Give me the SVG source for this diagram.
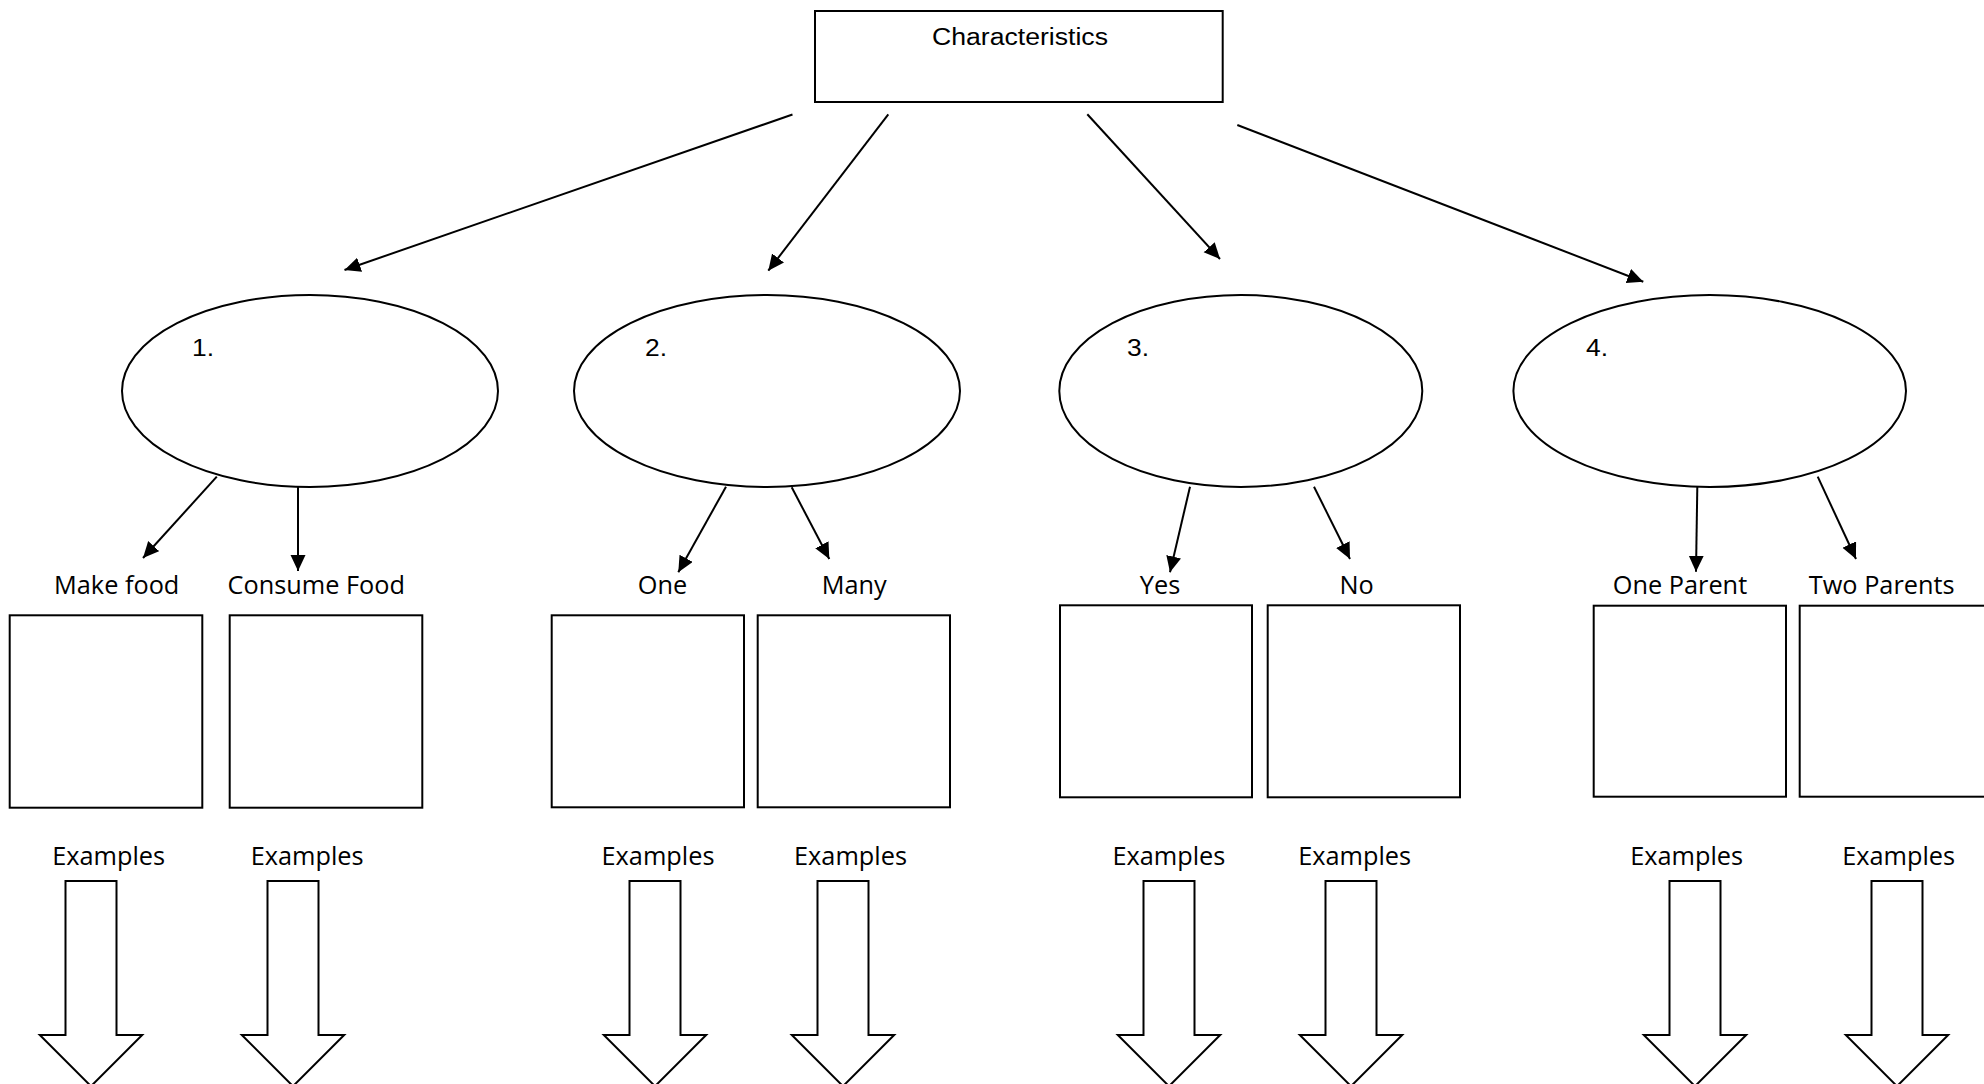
<svg xmlns="http://www.w3.org/2000/svg" width="1984" height="1084" viewBox="0 0 1984 1084">
<style>
.shape{fill:#fff;stroke:#000;stroke-width:2}
.conn{stroke:#000;stroke-width:2;fill:none;marker-end:url(#ah)}
.blk{fill:#fff;stroke:#000;stroke-width:2;stroke-linejoin:miter}
.arial{font-family:"Liberation Sans",Arial,sans-serif;font-size:23px;fill:#000}
.num{font-family:"Liberation Sans",Arial,sans-serif;font-size:24px;fill:#000}
.lab{font-family:"Open Sans","Noto Sans",sans-serif;font-size:25.3px;fill:#000;text-anchor:middle}
</style>
<defs>
<marker id="ah" markerUnits="userSpaceOnUse" markerWidth="18" markerHeight="18" refX="16" refY="7.5" orient="auto">
<path d="M0,0 L16,7.5 L0,15 z" fill="#000"/>
</marker>
</defs>
<rect width="1984" height="1084" fill="#fff"/>

<g id="connectors">
<line class="conn" x1="792.5" y1="114.5" x2="344.5" y2="270"/>
<line class="conn" x1="888.3" y1="114.3" x2="768.3" y2="270.7"/>
<line class="conn" x1="1087.3" y1="114.3" x2="1220" y2="259"/>
<line class="conn" x1="1237.3" y1="125" x2="1643.3" y2="281.7"/>
<line class="conn" x1="216.8" y1="476.7" x2="143" y2="558"/>
<line class="conn" x1="298" y1="487" x2="298" y2="571"/>
<line class="conn" x1="726" y1="486.7" x2="678.3" y2="572.3"/>
<line class="conn" x1="791.7" y1="487.3" x2="829.3" y2="559"/>
<line class="conn" x1="1190" y1="486.7" x2="1170" y2="572.3"/>
<line class="conn" x1="1314" y1="486.7" x2="1350" y2="559"/>
<line class="conn" x1="1697.3" y1="487" x2="1696" y2="571.7"/>
<line class="conn" x1="1817.7" y1="476.7" x2="1856" y2="559"/>
</g>

<g id="characteristics">
<rect class="shape" x="815" y="11" width="407.7" height="91"/>
<text class="arial" x="932" y="45" textLength="176" lengthAdjust="spacingAndGlyphs">Characteristics</text>
</g>

<g id="ellipse1">
<ellipse class="shape" cx="310" cy="391" rx="188" ry="96"/>
<text class="num" x="192" y="356" textLength="22" lengthAdjust="spacingAndGlyphs">1.</text>
</g>
<g id="ellipse2">
<ellipse class="shape" cx="767" cy="391" rx="193" ry="96"/>
<text class="num" x="645" y="356" textLength="22" lengthAdjust="spacingAndGlyphs">2.</text>
</g>
<g id="ellipse3">
<ellipse class="shape" cx="1240.8" cy="391" rx="181.5" ry="96"/>
<text class="num" x="1127" y="356" textLength="22" lengthAdjust="spacingAndGlyphs">3.</text>
</g>
<g id="ellipse4">
<ellipse class="shape" cx="1709.7" cy="391" rx="196.3" ry="96"/>
<text class="num" x="1586" y="356" textLength="22" lengthAdjust="spacingAndGlyphs">4.</text>
</g>

<g id="make-food">
<text class="lab" x="116.7" y="594">Make food</text>
<rect class="shape" x="9.7" y="615.3" width="192.6" height="192.4"/>
<text class="lab" x="108.7" y="865">Examples</text>
<path class="blk" d="M65.5,881 H116.5 V1035 H142.2 L91,1086.2 L39.8,1035 H65.5 Z"/>
</g>
<g id="consume-food">
<text class="lab" x="316.3" y="594">Consume Food</text>
<rect class="shape" x="229.7" y="615.3" width="192.6" height="192.4"/>
<text class="lab" x="307.2" y="865">Examples</text>
<path class="blk" d="M267.5,881 H318.5 V1035 H344.2 L293,1086.2 L241.8,1035 H267.5 Z"/>
</g>
<g id="one">
<text class="lab" x="662.5" y="594">One</text>
<rect class="shape" x="551.7" y="615.3" width="192.3" height="192"/>
<text class="lab" x="658" y="865">Examples</text>
<path class="blk" d="M629.5,881 H680.5 V1035 H706.2 L655,1086.2 L603.8,1035 H629.5 Z"/>
</g>
<g id="many">
<text class="lab" x="854.2" y="594">Many</text>
<rect class="shape" x="757.7" y="615.3" width="192.3" height="192"/>
<text class="lab" x="850.5" y="865">Examples</text>
<path class="blk" d="M817.5,881 H868.5 V1035 H894.2 L843,1086.2 L791.8,1035 H817.5 Z"/>
</g>
<g id="yes">
<text class="lab" x="1160" y="594">Yes</text>
<rect class="shape" x="1060" y="605.3" width="192" height="192"/>
<text class="lab" x="1168.9" y="865">Examples</text>
<path class="blk" d="M1143.5,881 H1194.5 V1035 H1220.2 L1169,1086.2 L1117.8,1035 H1143.5 Z"/>
</g>
<g id="no">
<text class="lab" x="1356.7" y="594">No</text>
<rect class="shape" x="1267.7" y="605.3" width="192.3" height="192"/>
<text class="lab" x="1354.7" y="865">Examples</text>
<path class="blk" d="M1325.5,881 H1376.5 V1035 H1402.2 L1351,1086.2 L1299.8,1035 H1325.5 Z"/>
</g>
<g id="one-parent">
<text class="lab" x="1680" y="594">One Parent</text>
<rect class="shape" x="1593.7" y="605.7" width="192.3" height="191"/>
<text class="lab" x="1686.7" y="865">Examples</text>
<path class="blk" d="M1669.5,881 H1720.5 V1035 H1746.2 L1695,1086.2 L1643.8,1035 H1669.5 Z"/>
</g>
<g id="two-parents">
<text class="lab" x="1881.7" y="594">Two Parents</text>
<rect class="shape" x="1799.7" y="605.7" width="192.3" height="191"/>
<text class="lab" x="1898.7" y="865">Examples</text>
<path class="blk" d="M1871.5,881 H1922.5 V1035 H1948.2 L1897,1086.2 L1845.8,1035 H1871.5 Z"/>
</g>
</svg>
